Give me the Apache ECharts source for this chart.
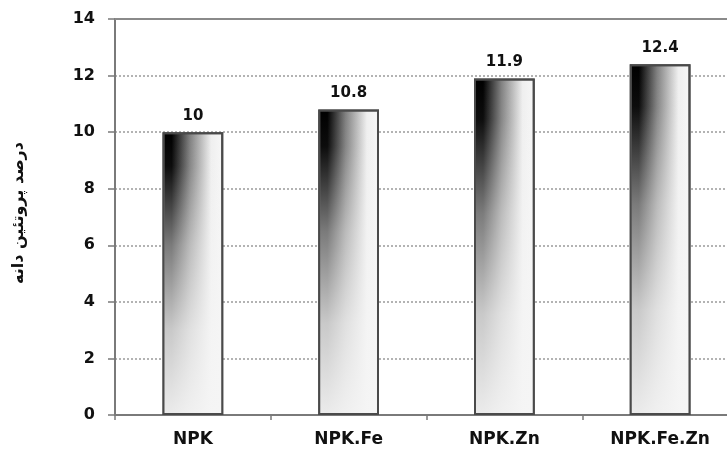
<!DOCTYPE html>
<html>
<head>
<meta charset="utf-8">
<script src="https://cdn.jsdelivr.net/npm/echarts@6/dist/echarts.min.js"></script>
<style>html,body{margin:0;padding:0;background:#fff;}#c{width:727px;height:453px;}</style>
</head>
<body>
<div id="c"></div>
<script>
var categories = ['NPK', 'NPK.Fe', 'NPK.Zn', 'NPK.Fe.Zn'];
var values = [10, 10.8, 11.9, 12.4];
var yTicks = [0, 2, 4, 6, 8, 10, 12, 14];
var yTitle = 'درصد پروتئین دانه';

var chart = echarts.init(document.getElementById('c'), null, {renderer: 'canvas'});
var axisGrey = '#7a7a7a';
var option = {
  backgroundColor: '#ffffff',
  animation: false,
  grid: {left: 115, top: 19, bottom: 38, width: 623, containLabel: false, outerBoundsMode: 'none'},
  xAxis: [{
    type: 'category',
    data: categories,
    axisLine: {lineStyle: {color: axisGrey, width: 2}},
    axisTick: {show: true, length: 5, lineStyle: {color: axisGrey, width: 1.5}},
    axisLabel: {color: '#111', fontFamily: 'DejaVu Sans', fontWeight: 'bold', fontSize: 17, margin: 16}
  }, {
    type: 'category',
    position: 'top',
    data: categories,
    axisLine: {show: true, lineStyle: {color: '#8a8a8a', width: 2}},
    axisTick: {show: false},
    axisLabel: {show: false}
  }],
  yAxis: {
    type: 'value',
    min: yTicks[0],
    max: yTicks[yTicks.length - 1],
    interval: 2,
    name: yTitle,
    nameLocation: 'middle',
    nameRotate: 90,
    nameGap: 88,
    nameTextStyle: {color: '#111', fontFamily: 'DejaVu Sans', fontWeight: 'bold', fontSize: 16, padding: [0, 0, 0, 8]},
    axisLine: {show: true, lineStyle: {color: axisGrey, width: 2}},
    axisTick: {show: true, length: 7, lineStyle: {color: axisGrey, width: 1.5}},
    axisLabel: {color: '#111', fontFamily: 'DejaVu Sans', fontWeight: 'bold', fontSize: 16, margin: 20},
    splitLine: {show: true, lineStyle: {color: '#9a9a9a', type: [2, 2], width: 1.5}}
  },
  series: [{
    type: 'bar',
    data: values,
    barWidth: '39%',
    itemStyle: {
      borderColor: '#4a4a4a',
      borderWidth: 2,
      color: {
        type: 'linear', x: 0, y: 0, x2: 1, y2: 0,
        colorStops: [
          {offset: 0, color: '#000000'},
          {offset: 0.15, color: '#000000'},
          {offset: 0.45, color: '#808080'},
          {offset: 0.8, color: '#efefef'},
          {offset: 1, color: '#f7f7f7'}
        ]
      }
    },
    label: {show: true, position: 'top', distance: 9, color: '#111',
      fontFamily: 'DejaVu Sans', fontWeight: 'bold', fontSize: 15}
  }, {
    type: 'bar',
    data: values,
    barWidth: '39%',
    barGap: '-100%',
    silent: true,
    itemStyle: {
      borderColor: '#4a4a4a',
      borderWidth: 2,
      color: {
        type: 'linear', x: 0, y: 0, x2: 0, y2: 1,
        colorStops: [
          {offset: 0, color: 'rgba(245,245,245,0)'},
          {offset: 0.12, color: 'rgba(245,245,245,0.05)'},
          {offset: 0.4, color: 'rgba(245,245,245,0.5)'},
          {offset: 0.7, color: 'rgba(245,245,245,0.82)'},
          {offset: 1, color: 'rgba(245,245,245,0.96)'}
        ]
      }
    }
  }]
};
chart.setOption(option);
</script>
</body>
</html>
